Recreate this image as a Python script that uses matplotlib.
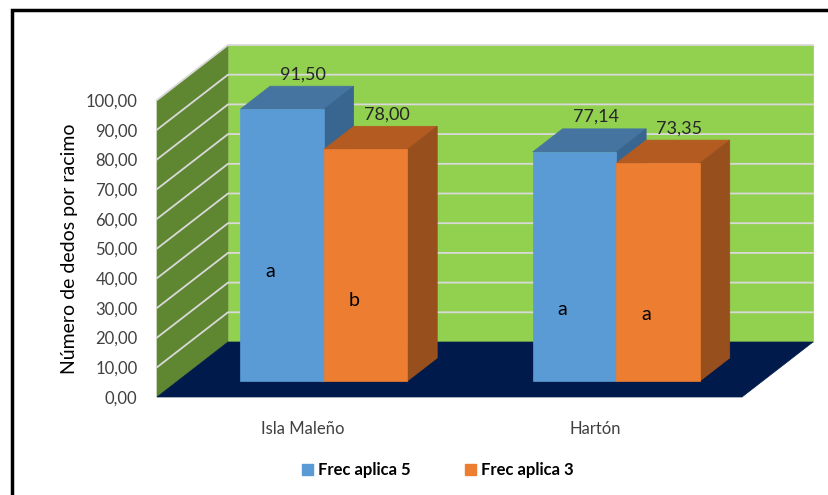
import matplotlib.pyplot as plt
from matplotlib.patches import Polygon, Patch, Rectangle
from matplotlib.transforms import IdentityTransform, offset_copy
import numpy as np

plt.rcParams['font.family'] = ['Lato', 'DejaVu Sans']

# Data
categories = ['Isla Maleño', 'Hartón']
series_names = ['Frec aplica 5', 'Frec aplica 3']
frec5 = [91.50, 77.14]
frec3 = [78.00, 73.35]
letters5 = ['a', 'a']
letters3 = ['b', 'a']
letter_y5 = [37, 24]
letter_y3 = [27, 22.5]

# face colours: front, top, side
blue = ['#5B9BD5', '#44749F', '#386690']
orange = ['#ED7D31', '#B35B21', '#984F1E']
back_wall = '#92D050'
side_wall = '#5F8731'
floor = '#001A4B'
grid = '#D9D9D9'

# oblique depth of the box in pixels, and where the bars sit inside it
DX, DY = 71, 55
D0, D1 = 0.29, 0.71

fig = plt.figure(figsize=(8.29, 4.95), dpi=100)
ax = fig.add_axes([157 / 829, 98 / 495, 585 / 829, 297 / 495])
ax.set_xlim(-0.5, 1.5)
ax.set_ylim(0, 100)
ax.patch.set_visible(False)
for s in ax.spines.values():
    s.set_visible(False)


def proj(x, v, d):
    p = ax.transData.transform((x, v))
    return (p[0] + d * DX, p[1] + d * DY)


def face(pts, color, z):
    ax.add_patch(Polygon(pts, closed=True, transform=IdentityTransform(),
                         facecolor=color, edgecolor=color, lw=0.5,
                         clip_on=False, zorder=z))


x_lo, x_hi = ax.get_xlim()

# walls and floor
face([proj(x_lo, 0, 1), proj(x_hi, 0, 1), proj(x_hi, 100, 1),
      proj(x_lo, 100, 1)], back_wall, 0)
face([proj(x_lo, 0, 0), proj(x_lo, 0, 1), proj(x_lo, 100, 1),
      proj(x_lo, 100, 0)], side_wall, 0)

for v in range(10, 101, 10):
    a, b, c = proj(x_lo, v, 0), proj(x_lo, v, 1), proj(x_hi, v, 1)
    ax.plot([a[0], b[0], c[0]], [a[1], b[1], c[1]], color=grid, lw=1.3,
            transform=IdentityTransform(), clip_on=False, zorder=1)

face([proj(x_lo, 0, 0), proj(x_hi, 0, 0), proj(x_hi, 0, 1),
      proj(x_lo, 0, 1)], floor, 2)

# bars
w = 1 / 3.5
x = np.arange(len(categories))
z = 3
for i in range(len(categories)):
    for x0, v, cols, lab, ly in [(x[i] - w, frec5[i], blue, letters5[i], letter_y5[i]),
                                 (x[i], frec3[i], orange, letters3[i], letter_y3[i])]:
        x1 = x0 + w
        face([proj(x0, v, D0), proj(x1, v, D0), proj(x1, v, D1),
              proj(x0, v, D1)], cols[1], z)
        face([proj(x1, 0, D0), proj(x1, 0, D1), proj(x1, v, D1),
              proj(x1, v, D0)], cols[2], z)
        face([proj(x0, 0, D0), proj(x1, 0, D0), proj(x1, v, D0),
              proj(x0, v, D0)], cols[0], z + 1)
        z += 2
        tr = offset_copy(ax.transData, fig=fig, x=D0 * DX + 21,
                         y=D0 * DY + 35, units='dots')
        ax.text(x0 + w / 2, v, f'{v:.2f}'.replace('.', ','), transform=tr,
                ha='center', va='center', fontsize=13, color='#262626',
                zorder=20)
        tr2 = offset_copy(ax.transData, fig=fig, x=D0 * DX - 12,
                          y=D0 * DY, units='dots')
        ax.text(x0 + w / 2, ly, lab, transform=tr2, ha='center',
                va='center', fontsize=14, color='black', zorder=20)

# axes text
ticks = list(range(0, 101, 10))
ax.set_yticks(ticks, [f'{t:.2f}'.replace('.', ',') for t in ticks])
ax.tick_params(axis='y', length=0, pad=14, labelsize=12, labelcolor='#404040')
ax.set_xticks(x, categories)
ax.tick_params(axis='x', length=0, pad=17, labelsize=12, labelcolor='#404040')
ax.text(-0.149, 0.5, 'Número de dedos por racimo', transform=ax.transAxes,
        rotation=90, ha='center', va='center', fontsize=14, color='black')

handles = [Patch(color=blue[0]), Patch(color=orange[0])]
fig.legend(handles, series_names, loc='center',
           bbox_to_anchor=(438 / 829, 1 - 470 / 495), ncol=2, frameon=False,
           handlelength=0.65, handleheight=0.65, handletextpad=0.3,
           columnspacing=3.3, prop={'weight': 'bold', 'size': 12})

# outer frame
fig.add_artist(Rectangle((12 / 829, -0.2), 1.2, 1 - 10 / 495 + 0.2,
                         transform=fig.transFigure, fill=False,
                         edgecolor='black', lw=2.5))

fig.savefig('out.png', dpi=100)
